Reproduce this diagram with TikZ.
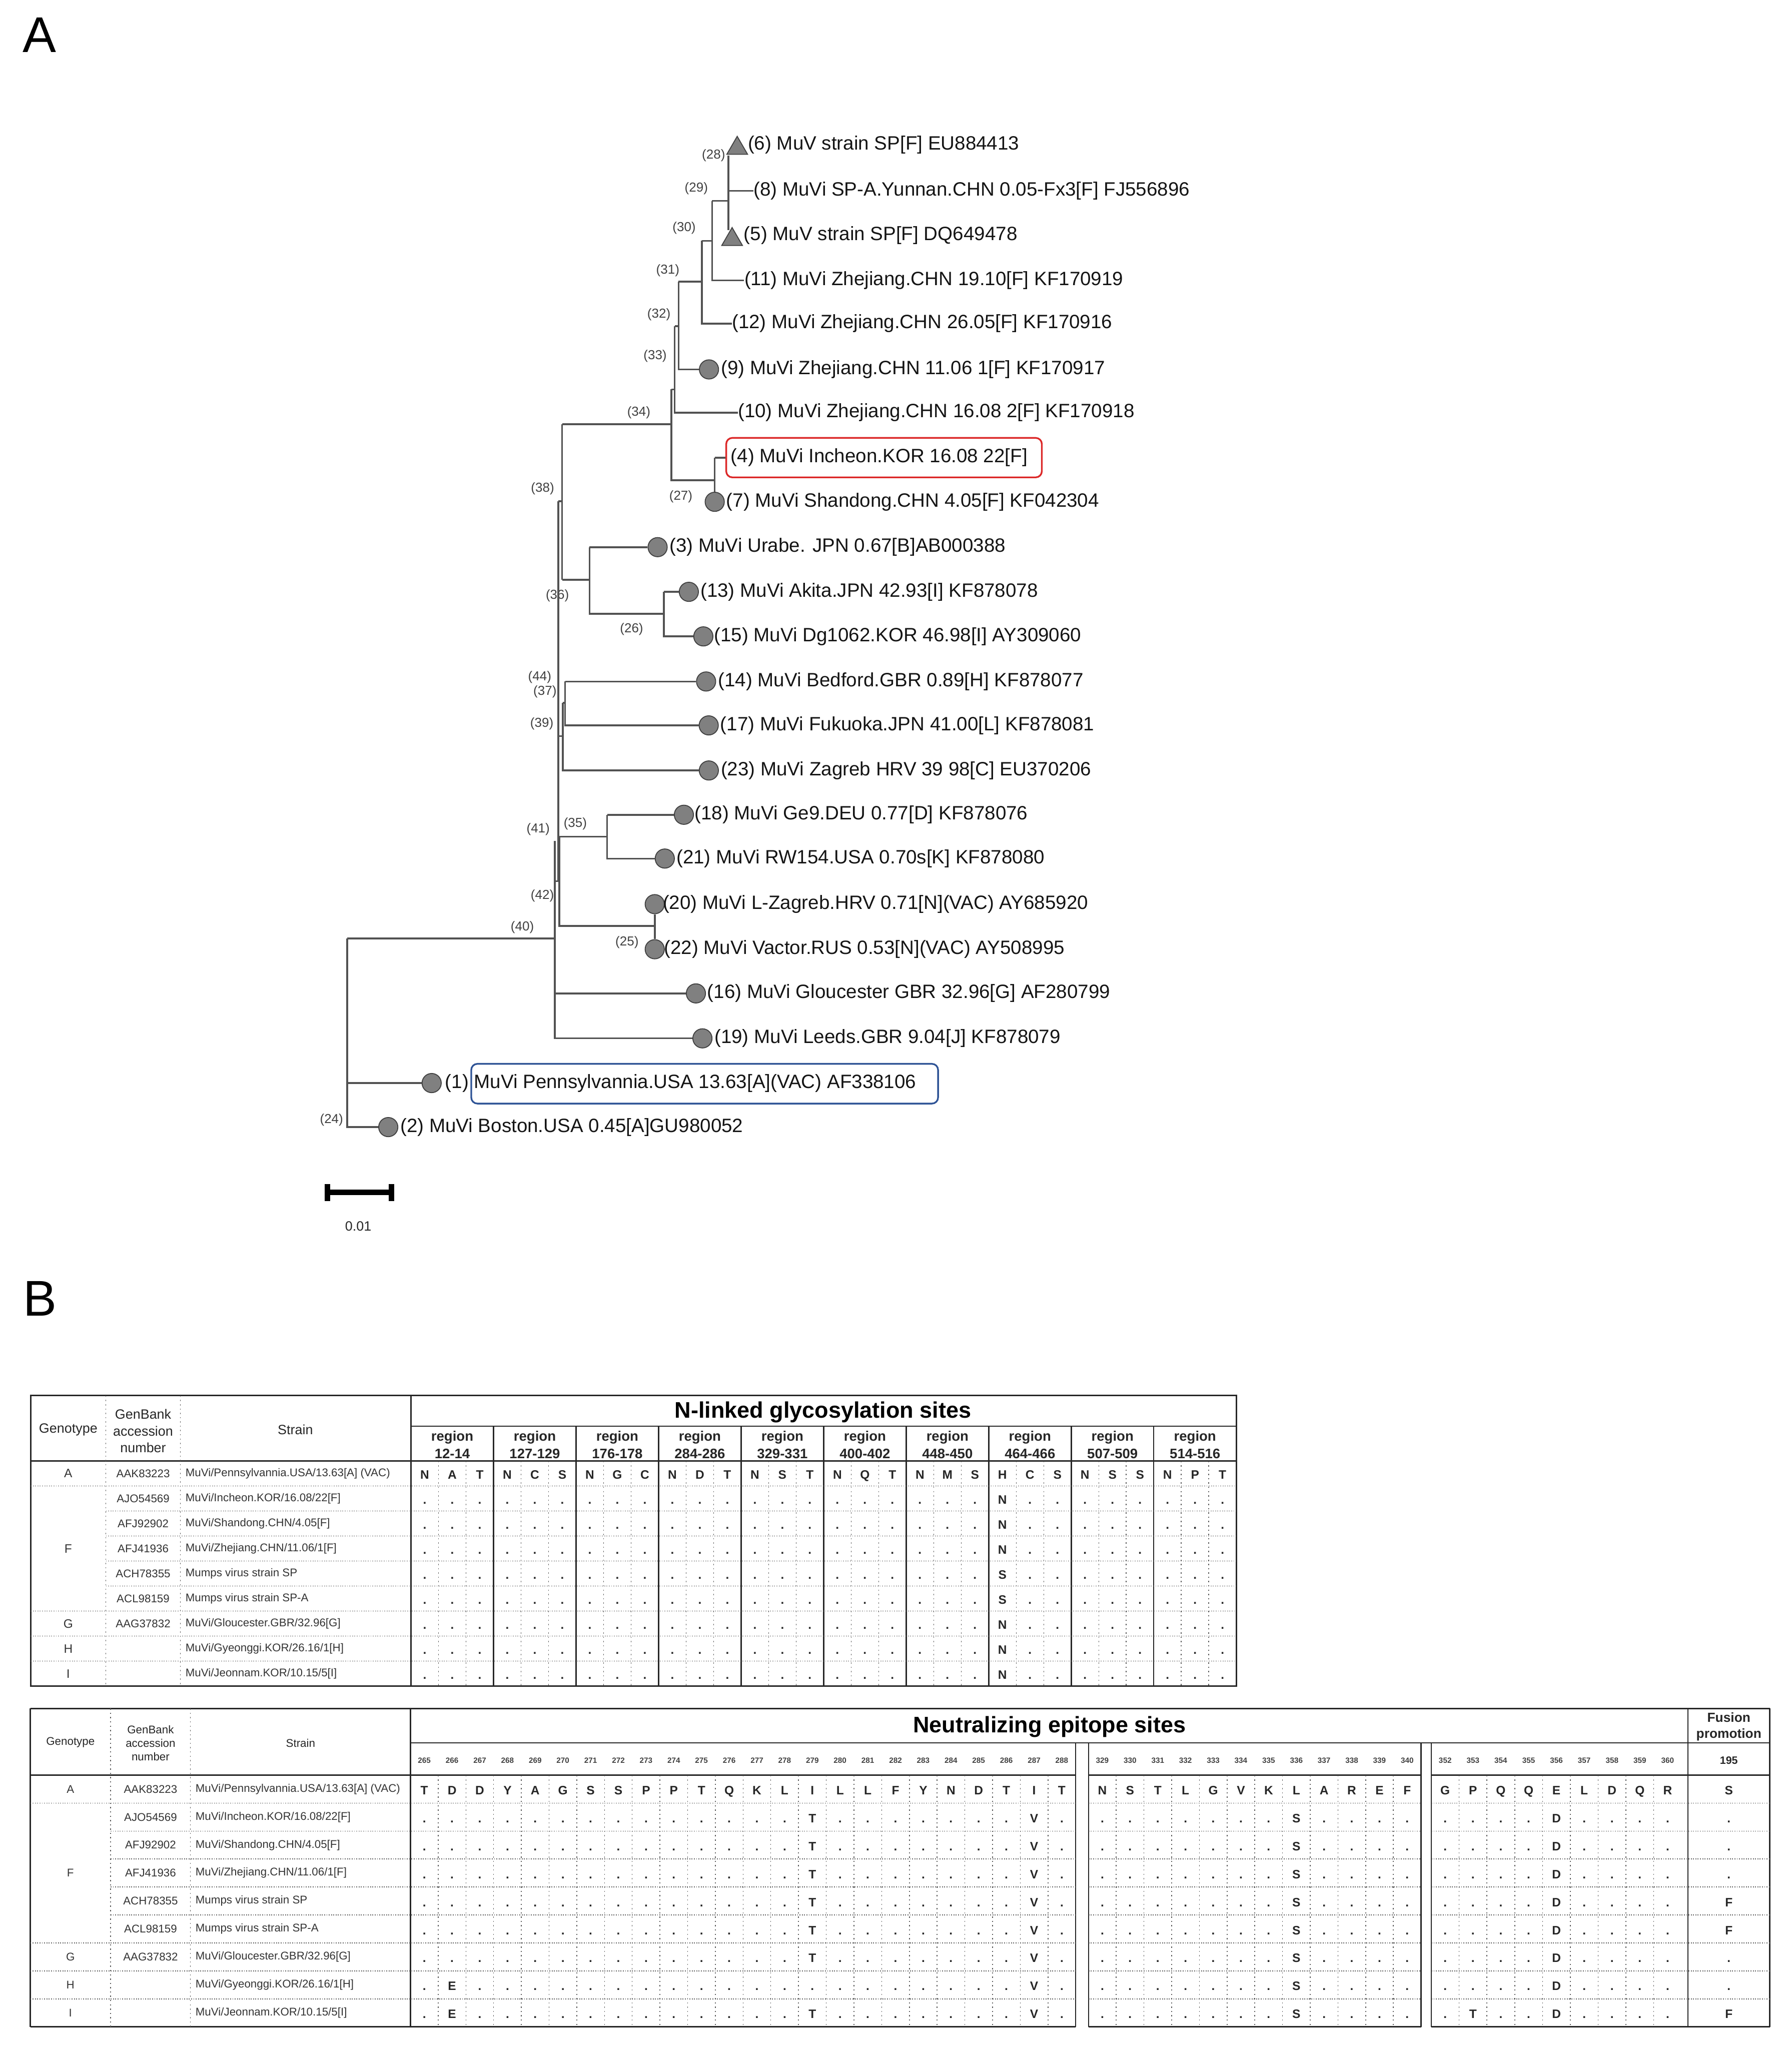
\documentclass[tikz,border=0pt]{standalone}
\usepackage{fontspec}
\setmainfont{Liberation Sans}
\usetikzlibrary{shapes.geometric}
\definecolor{boxblue}{RGB}{47,84,150}
\definecolor{boxred}{RGB}{220,40,40}
\begin{document}
\begin{tikzpicture}[x=0.03cm,y=-0.03cm,
  br/.style={line width=1.15pt,draw=black!68},
  leaf/.style={anchor=west,inner sep=0pt,font=\fontsize{12.6}{14}\selectfont,text=black!92},
  nlab/.style={inner sep=0pt,font=\fontsize{8.5}{9}\selectfont,text=black!75},
  circ/.style={circle,draw=black!75,fill=black!50,line width=0.6pt,minimum size=0.44cm,inner sep=0pt},
  tri/.style={regular polygon,regular polygon sides=3,draw=black!75,fill=black!50,line width=0.6pt,minimum size=0.55cm,inner sep=0pt},
  tb/.style={line width=1pt,draw=black!85},
  tm/.style={line width=0.8pt,draw=black!85},
  hd/.style={line width=0.5pt,draw=black!65,dash pattern=on 0.6pt off 0.9pt},
  vd/.style={line width=0.5pt,draw=black!65,dash pattern=on 0.8pt off 2pt},
  th1/.style={inner sep=0pt,align=center,font=\fontsize{8.8}{10.9}\selectfont,text=black!85},
  th2/.style={inner sep=0pt,align=center,font=\fontsize{7.3}{8.8}\selectfont,text=black!85},
  ttl/.style={inner sep=0pt,font=\bfseries\fontsize{14.7}{16}\selectfont,text=black},
  rh/.style={inner sep=0pt,font=\bfseries\fontsize{9}{10}\selectfont,text=black!85},
  tbody/.style={inner sep=0pt,font=\fontsize{7.3}{8}\selectfont,text=black!80},
  strn/.style={tbody,anchor=west},
  aa/.style={inner sep=0pt,text height=0.72em,text depth=0pt,font=\bfseries\fontsize{8}{9}\selectfont,text=black!85},
  pn/.style={inner sep=0pt,font=\bfseries\fontsize{5}{6}\selectfont,text=black!75},
  panel/.style={inner sep=0pt,font=\fontsize{32.8}{36}\selectfont,text=black}
]
\fill[white] (0,0) rectangle (1371,1568);
\useasboundingbox (0,0) rectangle (1371,1568);

% ---------------- panel labels
\node[panel] (labA) at (30.3,26.9) {A};
\node[panel] (labB) at (30.5,993.9) {B};

% ---------------- leaf symbols
\node[tri] (t6) at (564.1,113.5) {};
\node[tri] (t5) at (560.2,183.3) {};
\node[circ] (c9) at (542.5,282.7) {};
\node[circ] (c7) at (546.9,384) {};
\node[circ] (c3) at (503.2,418.7) {};
\node[circ] (c13) at (527.1,452.9) {};
\node[circ] (c15) at (538.2,487) {};
\node[circ] (c14) at (540.3,521.5) {};
\node[circ] (c17) at (542.3,555.1) {};
\node[circ] (c23) at (542.4,589.6) {};
\node[circ] (c18) at (523.3,623.5) {};
\node[circ] (c21) at (508.7,657) {};
\node[circ] (c20) at (501,691.9) {};
\node[circ] (c22) at (501,726.4) {};
\node[circ] (c16) at (532.5,760.2) {};
\node[circ] (c19) at (537.5,794.6) {};
\node[circ] (c1) at (330.3,828.8) {};
\node[circ] (c2) at (297.1,862.5) {};

% ---------------- highlight boxes
\node[draw=boxred,line width=1.1pt,rounded corners=4pt,minimum width=7.245cm,minimum height=0.906cm,inner sep=0pt] (box4) at (676.45,350.2) {};
\node[draw=boxblue,line width=1.1pt,rounded corners=4pt,minimum width=10.716cm,minimum height=0.912cm,inner sep=0pt] (box1) at (539.2,829.3) {};

% ---------------- leaf labels
\node[leaf] (l6) at (572.1,111) {(6) MuV strain SP[F] EU884413};
\node[leaf] (l8) at (576.5,146) {(8) MuVi SP-A.Yunnan.CHN 0.05-Fx3[F] FJ556896};
\node[leaf] (l5) at (569.0,180) {(5) MuV strain SP[F] DQ649478};
\node[leaf] (l11) at (569.4,214.5) {(11) MuVi Zhejiang.CHN 19.10[F] KF170919};
\node[leaf] (l12) at (559.9,247.6) {(12) MuVi Zhejiang.CHN 26.05[F] KF170916};
\node[leaf] (l9) at (551.5,282.7) {(9) MuVi Zhejiang.CHN 11.06 1[F] KF170917};
\node[leaf] (l10) at (564.5,315.8) {(10) MuVi Zhejiang.CHN 16.08 2[F] KF170918};
\node[leaf] (l4) at (559.0,350.2) {(4) MuVi Incheon.KOR 16.08 22[F]};
\node[leaf] (l7) at (555.5,384) {(7) MuVi Shandong.CHN 4.05[F] KF042304};
\node[leaf] (l3) at (512.2,418.7) {(3) MuVi Urabe. JPN 0.67[B]AB000388};
\node[leaf] (l13) at (535.8,452.9) {(13) MuVi Akita.JPN 42.93[I] KF878078};
\node[leaf] (l15) at (546.2,487) {(15) MuVi Dg1062.KOR 46.98[I] AY309060};
\node[leaf] (l14) at (549.3,521.5) {(14) MuVi Bedford.GBR 0.89[H] KF878077};
\node[leaf] (l17) at (551.0,555.1) {(17) MuVi Fukuoka.JPN 41.00[L] KF878081};
\node[leaf] (l23) at (551.4,589.6) {(23) MuVi Zagreb HRV 39 98[C] EU370206};
\node[leaf] (l18) at (531.3,623.5) {(18) MuVi Ge9.DEU 0.77[D] KF878076};
\node[leaf] (l21) at (517.4,657) {(21) MuVi RW154.USA 0.70s[K] KF878080};
\node[leaf] (l20) at (507.0,691.9) {(20) MuVi L-Zagreb.HRV 0.71[N](VAC) AY685920};
\node[leaf] (l22) at (507.9,726.4) {(22) MuVi Vactor.RUS 0.53[N](VAC) AY508995};
\node[leaf] (l16) at (541.0,760.2) {(16) MuVi Gloucester GBR 32.96[G] AF280799};
\node[leaf] (l19) at (546.5,794.6) {(19) MuVi Leeds.GBR 9.04[J] KF878079};
\node[leaf] (l1) at (340.4,828.8) {(1)};
\node[leaf] (l1b) at (362.5,828.8) {MuVi Pennsylvannia.USA 13.63[A](VAC) AF338106};
\node[leaf] (l2) at (306.1,862.5) {(2) MuVi Boston.USA 0.45[A]GU980052};

% ---------------- internal node labels
\foreach \t/\x/\y in {28/546.0/119.0,29/532.8/144.3,30/523.5/174.5,31/511/207.1,32/504.2/240.8,33/501.3/272.6,34/488.8/315.8,27/521/380.1,38/415.2/374,36/426.5/456,26/483.3/481.5,44/413/518.3,37/417/529.2,39/414.6/554,41/411.8/634.7,35/440.2/630.5,42/415/685.7,40/399.7/709.6,25/479.8/721,24/253.7/857.2}
  \node[nlab] (n\t) at (\x,\y) {(\t)};

% ---------------- branches: top clade
\draw[br] (557.4,119) -- (557.4,176);
\draw[br] (557.4,146) -- (l8.west);
\draw[br] (544.9,153.7) -- (557.4,153.7);
\draw[br] (544.9,153.7) -- (544.9,214.5) -- (l11.west);
\draw[br] (537,184.3) -- (544.9,184.3);
\draw[br] (537,184.3) -- (537,247.6) -- (l12.west);
\draw[br] (519.2,215.5) -- (537,215.5);
\draw[br] (519.2,215.5) -- (519.2,282.7) -- (c9);
\draw[br] (516.3,249.6) -- (519.2,249.6);
\draw[br] (516.3,249.6) -- (516.3,315.8) -- (l10.west);
\draw[br] (513.8,298) -- (516.3,298);
\draw[br] (513.8,298) -- (513.8,367.5) -- (546.9,367.5);
\draw[br] (546.9,350.2) -- (c7);
\draw[br] (546.9,350.2) -- (box4.west);
% backbone
\draw[br] (430.1,324.6) -- (513.8,324.6);
\draw[br] (430.1,324.6) -- (430.1,443.7);
\draw[br] (427.3,383.6) -- (430.1,383.6);
\draw[br] (427.3,383.6) -- (427.3,674.4);
\draw[br] (430.1,443.7) -- (451.1,443.7);
\draw[br] (451.1,418.7) -- (451.1,469.7) -- (508,469.7);
\draw[br] (451.1,418.7) -- (c3);
\draw[br] (508,452.9) -- (508,487) -- (c15);
\draw[br] (508,452.9) -- (c13);
\draw[br] (432.4,521.5) -- (432.4,555.1) -- (c17);
\draw[br] (432.4,521.5) -- (c14);
\draw[br] (430.7,537.9) -- (432.4,537.9);
\draw[br] (430.7,537.9) -- (430.7,589.6) -- (c23);
\draw[br] (427.3,563.3) -- (430.7,563.3);
\draw[br] (427.9,640.3) -- (464.6,640.3);
\draw[br] (464.6,623.5) -- (464.6,657) -- (c21);
\draw[br] (464.6,623.5) -- (c18);
\draw[br] (427.9,640.3) -- (427.9,708.5) -- (501,708.5);
\draw[br] (c20) -- (c22);
\draw[br] (424.5,643.5) -- (424.5,794.6) -- (c19);
\draw[br] (424.5,674.4) -- (427.3,674.4);
\draw[br] (424.5,760.2) -- (c16);
\draw[br] (265.6,718.2) -- (424.5,718.2);
\draw[br] (265.6,718.2) -- (265.6,862.5) -- (c2);
\draw[br] (265.6,828.8) -- (c1);

% ---------------- scale bar
\coordinate (sbl) at (250.5,912.6);
\coordinate (sbr) at (299.5,912.6);
\draw[line width=3.6pt,black] (sbl) -- (sbr);
\draw[line width=3.6pt,black] (250.5,906) -- (250.5,919.2);
\draw[line width=3.6pt,black] (299.5,906) -- (299.5,919.2);
\node[nlab,text=black!85,font=\fontsize{8.8}{9}\selectfont] (sblab) at (274.1,938.4) {0.01};

% ================= TABLE 1 =================
\draw[tb] (23.4,1068) rectangle (946,1290.3);
\draw[tb] (23.4,1118) -- (946,1118);
\draw[tm] (314.5,1068) -- (314.5,1290.3);
\draw[tm] (314.5,1091.4) -- (946,1091.4);
\foreach \i in {1,...,9} \draw[tm] ({314.5+63.15*\i},1091.4) -- ({314.5+63.15*\i},1290.3);
\draw[vd] (81,1068) -- (81,1290.3);
\draw[vd] (138,1068) -- (138,1290.3);
\foreach \i in {0,...,9} \foreach \j in {1,2}
  \draw[vd] ({314.5+63.15*\i+21.05*\j},1118) -- ({314.5+63.15*\i+21.05*\j},1290.3);
\foreach \k in {1,6,7,8} \draw[hd] (23.4,{1118+19.15*\k}) -- (946,{1118+19.15*\k});
\foreach \k in {2,...,5} \draw[hd] (81,{1118+19.15*\k}) -- (946,{1118+19.15*\k});

\node[th1] (t1geno) at (52.2,1094.2) {Genotype};
\node[th1] (t1acc) at (109.5,1095.1) {GenBank\\accession\\number};
\node[th1] (t1strain) at (226,1094.2) {Strain};
\node[ttl] (t1title) at (629.8,1080.5) {N-linked glycosylation sites};
\foreach \r [count=\i from 0] in {12-14,127-129,176-178,284-286,329-331,400-402,448-450,464-466,507-509,514-516}{
  \node[rh] (t1reg\i) at ({314.5+63.15*(\i+0.5)},1099.8) {region};
  \node[rh] (t1num\i) at ({314.5+63.15*(\i+0.5)},1112.4) {\r};
}
\foreach \l [count=\n from 0] in {N,A,T,N,C,S,N,G,C,N,D,T,N,S,T,N,Q,T,N,M,S,H,C,S,N,S,S,N,P,T}
  \node[aa] (t1a\n) at ({314.5+21.05*(\n+0.5)},1127.6) {\l};
\foreach \k in {1,...,8}{
  \foreach \n in {0,...,29}{
    \ifnum\n=21\relax\else
      \node[aa] (t1d-\k-\n) at ({314.5+21.05*(\n+0.5)},{1118+19.15*(\k+0.5)}) {.};
    \fi
  }
}
\foreach \l [count=\k] in {N,N,N,S,S,N,N,N}
  \node[aa] (t1m\k) at ({314.5+21.05*21.5},{1118+19.15*(\k+0.5)}) {\l};
\foreach \g/\k in {A/0,F/3,G/6,H/7,I/8}
  \node[tbody,font=\fontsize{8}{9}\selectfont] (t1g\g) at (52.2,{1118+19.15*(\k+0.5)}) {\g};
\foreach \a [count=\k from 0] in {AAK83223,AJO54569,AFJ92902,AFJ41936,ACH78355,ACL98159,AAG37832}
  \node[tbody] (t1acc\k) at (109.5,{1118+19.15*(\k+0.5)}) {\a};
\foreach \s [count=\k from 0] in {{MuVi/Pennsylvannia.USA/13.63[A] (VAC)},{MuVi/Incheon.KOR/16.08/22[F]},{MuVi/Shandong.CHN/4.05[F]},{MuVi/Zhejiang.CHN/11.06/1[F]},{Mumps virus strain SP},{Mumps virus strain SP-A},{MuVi/Gloucester.GBR/32.96[G]},{MuVi/Gyeonggi.KOR/26.16/1[H]},{MuVi/Jeonnam.KOR/10.15/5[I]}}
  \node[strn] (t1s\k) at (141.7,{1118+19.15*(\k+0.5)}) {\s};

% ================= TABLE 2 =================
\draw[tb] (23.2,1307.4) -- (1354.3,1307.4);
\draw[tb] (23.2,1307.4) -- (23.2,1551);
\draw[tb] (1354.3,1307.4) -- (1354.3,1551);
\foreach \y in {1358.4,1551}{
  \draw[tb] (23.2,\y) -- (823.1,\y);
  \draw[tb] (832.9,\y) -- (1087.4,\y);
  \draw[tb] (1095.2,\y) -- (1354.3,\y);
}
\draw[tm] (314.1,1333.7) -- (1354.3,1333.7);
\draw[tm] (314.1,1307.4) -- (314.1,1551);
\draw[tm] (1291.5,1307.4) -- (1291.5,1551);
\foreach \x in {823.1,832.9,1087.4,1095.2} \draw[tm] (\x,1333.7) -- (\x,1551);
\draw[vd] (84.6,1307.4) -- (84.6,1551);
\draw[vd] (145.7,1307.4) -- (145.7,1551);
\foreach \j in {1,...,23} \draw[vd] ({314.1+21.208*\j},1358.4) -- ({314.1+21.208*\j},1551);
\foreach \j in {1,...,11} \draw[vd] ({832.9+21.208*\j},1358.4) -- ({832.9+21.208*\j},1551);
\foreach \j in {1,...,8} \draw[vd] ({1095.2+21.28*\j},1358.4) -- ({1095.2+21.28*\j},1551);
\foreach \k in {1,...,8}{
  \pgfmathsetmacro\yy{1358.4+21.4*\k}
  \ifnum\k<2 \def\xs{23.2}\else\ifnum\k>5 \def\xs{23.2}\else\def\xs{84.6}\fi\fi
  \draw[hd] (\xs,\yy) -- (823.1,\yy);
  \draw[hd] (832.9,\yy) -- (1087.4,\yy);
  \draw[hd] (1095.2,\yy) -- (1354.3,\yy);
}

\node[th2] (t2geno) at (53.9,1333.5) {Genotype};
\node[th2] (t2acc) at (115.2,1334) {GenBank\\accession\\number};
\node[th2] (t2strain) at (230,1334) {Strain};
\node[ttl] (t2title) at (803,1321.4) {Neutralizing epitope sites};
\node[rh,align=center,font=\bfseries\fontsize{8.6}{10.6}\selectfont] (t2fus) at (1322.9,1321.4) {Fusion\\promotion};
\node[rh,font=\bfseries\fontsize{7}{8}\selectfont] (t2p195) at (1322.9,1347.2) {195};
\foreach \j in {0,...,23}{\pgfmathtruncatemacro\p{265+\j}\node[pn] (t2pa\j) at ({314.1+21.208*(\j+0.5)},1347.2) {\p};}
\foreach \j in {0,...,11}{\pgfmathtruncatemacro\p{329+\j}\node[pn] (t2pb\j) at ({832.9+21.208*(\j+0.5)},1347.2) {\p};}
\foreach \j in {0,...,8}{\pgfmathtruncatemacro\p{352+\j}\node[pn] (t2pc\j) at ({1095.2+21.28*(\j+0.5)},1347.2) {\p};}

\foreach \l [count=\j from 0] in {T,D,D,Y,A,G,S,S,P,P,T,Q,K,L,I,L,L,F,Y,N,D,T,I,T}
  \node[aa] (t2aa\j) at ({314.1+21.208*(\j+0.5)},1369.1) {\l};
\foreach \l [count=\j from 0] in {N,S,T,L,G,V,K,L,A,R,E,F}
  \node[aa] (t2ab\j) at ({832.9+21.208*(\j+0.5)},1369.1) {\l};
\foreach \l [count=\j from 0] in {G,P,Q,Q,E,L,D,Q,R}
  \node[aa] (t2ac\j) at ({1095.2+21.28*(\j+0.5)},1369.1) {\l};
\node[aa] (t2af0) at (1322.9,1369.1) {S};

\foreach \k in {1,...,8}{
  \foreach \j in {0,...,23}{
    \def\ch{.}
    \ifnum\j=22 \def\ch{V}\fi
    \ifnum\j=14 \ifnum\k=7 \else\def\ch{T}\fi\fi
    \ifnum\j=1 \ifnum\k>6 \def\ch{E}\fi\fi
    \node[aa] (t2da-\k-\j) at ({314.1+21.208*(\j+0.5)},{1358.4+21.4*(\k+0.5)}) {\ch};
  }
  \foreach \j in {0,...,11}{
    \def\ch{.}
    \ifnum\j=7 \def\ch{S}\fi
    \node[aa] (t2db-\k-\j) at ({832.9+21.208*(\j+0.5)},{1358.4+21.4*(\k+0.5)}) {\ch};
  }
  \foreach \j in {0,...,8}{
    \def\ch{.}
    \ifnum\j=4 \def\ch{D}\fi
    \ifnum\j=1 \ifnum\k=8 \def\ch{T}\fi\fi
    \node[aa] (t2dc-\k-\j) at ({1095.2+21.28*(\j+0.5)},{1358.4+21.4*(\k+0.5)}) {\ch};
  }
}
\foreach \k/\c in {1/.,2/.,3/.,4/F,5/F,6/.,7/.,8/F}
  \node[aa] (t2df\k) at (1322.9,{1358.4+21.4*(\k+0.5)}) {\c};

\foreach \g/\k in {A/0,F/3,G/6,H/7,I/8}
  \node[tbody] (t2g\g) at (53.9,{1358.4+21.4*(\k+0.5)}) {\g};
\foreach \a [count=\k from 0] in {AAK83223,AJO54569,AFJ92902,AFJ41936,ACH78355,ACL98159,AAG37832}
  \node[tbody] (t2acc\k) at (115.2,{1358.4+21.4*(\k+0.5)}) {\a};
\foreach \s [count=\k from 0] in {{MuVi/Pennsylvannia.USA/13.63[A] (VAC)},{MuVi/Incheon.KOR/16.08/22[F]},{MuVi/Shandong.CHN/4.05[F]},{MuVi/Zhejiang.CHN/11.06/1[F]},{Mumps virus strain SP},{Mumps virus strain SP-A},{MuVi/Gloucester.GBR/32.96[G]},{MuVi/Gyeonggi.KOR/26.16/1[H]},{MuVi/Jeonnam.KOR/10.15/5[I]}}
  \node[strn] (t2s\k) at (149.4,{1358.4+21.4*(\k+0.5)}) {\s};

\end{tikzpicture}
\end{document}
